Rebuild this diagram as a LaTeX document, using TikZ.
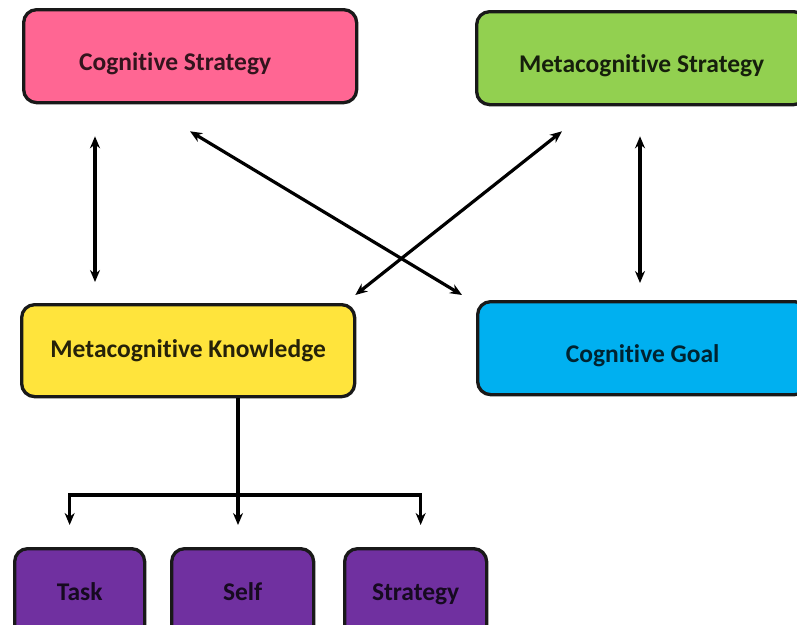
\documentclass[tikz,border=0pt]{standalone}
\usepackage{fontspec}
\setmainfont{Carlito}[Ligatures={NoCommon}]
\usetikzlibrary{arrows.meta,positioning,calc}
\definecolor{cpink}{HTML}{FF6693}
\definecolor{cgreen}{HTML}{92D050}
\definecolor{cyell}{HTML}{FFE43C}
\definecolor{cblue}{HTML}{00B0F0}
\definecolor{cpurp}{HTML}{7030A0}

\begin{document}
\begin{tikzpicture}[
  x=1pt, y=-1pt,
  font=\bfseries\fontsize{25.5}{30}\selectfont,
  box/.style={draw=black!90, line width=3.3pt, rounded corners=13pt, anchor=north west,
              inner sep=0pt, minimum height=#1},
  low/.style={text height=28pt, text depth=0pt},
  kind/.style={box=90pt, fill=cpurp, text=black!80!cpurp, text height=19pt, text depth=6pt},
  both/.style={{Stealth[length=12pt,width=10pt]}-{Stealth[length=12pt,width=10pt]}, line width=3.2pt},
  down/.style={-{Stealth[length=12pt,width=10pt]}, line width=3.2pt},
  line/.style={line width=3.2pt},
]
\useasboundingbox[fill=white] (0,0) rectangle (797,624);

% ------------------------------------------------------------ top row
\node[box=93pt, low, minimum width=333pt, fill=cpink, text=black!80!cpink] (cs) at (22,8) {Cognitive Strategy\hspace*{30pt}};
\node[box=93pt, low, minimum width=330pt, fill=cgreen, text=black!85!cgreen] (ms) at (475,10) {Metacognitive Strategy};

% ------------------------------------------------------------ middle row
\node[box=92pt, minimum width=333pt, fill=cyell, text=black!85!cyell] (mk) at (20,303) {Metacognitive Knowledge};
\node[box=93pt, low, minimum width=330pt, fill=cblue, text=black!80!cblue] (cg) at (476,300) {Cognitive Goal};

% ------------------------------------------------------------ kinds of knowledge
\node[kind, minimum width=130pt] (task) at (13,547) {Task};
\node[kind, minimum width=142pt] (self) at (170,547) {Self};
\node[kind, minimum width=142pt] (strat) at (343,547) {Strategy};

% links between the four
\draw[both] ([xshift=73pt,yshift=-32pt]cs.south west) -- ([xshift=75pt,yshift=21pt]mk.north west);
\draw[both] ([xshift=165pt,yshift=-30pt]ms.south west) -- ([xshift=164pt,yshift=17pt]cg.north west);
\draw[both] ([xshift=168pt,yshift=-27pt]cs.south west) -- ([xshift=-14pt,yshift=5pt]cg.north west);
\draw[both] ([xshift=87pt,yshift=-25pt]ms.south west) -- ([xshift=-1pt,yshift=8pt]mk.north east);

% the tree below the knowledge box
\coordinate (split) at (238,495);
\draw[line] (mk.south -| split) -- (split);
\draw[down] (split) -| ([xshift=-10pt,yshift=22pt]task.north);
\draw[down] (split) -- ([yshift=22pt]self.north -| split);
\draw[down] (split) -| ([xshift=5pt,yshift=22pt]strat.north);

\end{tikzpicture}
\end{document}
